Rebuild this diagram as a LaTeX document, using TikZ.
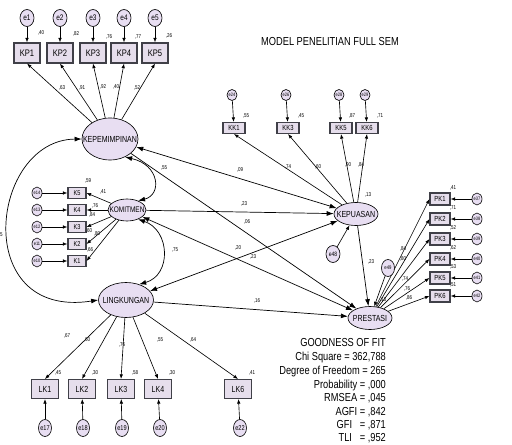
\documentclass[tikz,border=0pt]{standalone}
\usepackage{fontspec}
\setmainfont{Liberation Sans}[FakeStretch=0.8]
\usetikzlibrary{arrows.meta,shapes.geometric}
\definecolor{lav}{HTML}{E8DEF2}
\definecolor{boxf}{HTML}{E6DEEC}
\definecolor{boxd}{HTML}{404048}
\newcommand\fsz[1]{\fontsize{#1}{#1}\selectfont}
\begin{document}
\begin{tikzpicture}[x=0.05cm,y=-0.05cm,
 sz/.style 2 args={minimum width=#1*0.05cm,minimum height=#2*0.05cm},
 lat/.style={draw=black,fill=lav,ellipse,inner sep=0pt,line width=0.9pt},
 obs/.style={draw=boxd,fill=boxf,rectangle,inner sep=0pt,line width=1.5pt},
 err/.style={draw=black,fill=lav,ellipse,inner sep=0pt,line width=0.9pt},
 ltxt/.style={font=\fsz{12.5},inner sep=0pt},
 ar/.style={-{Latex[length=6.5pt,width=5pt]},line width=0.9pt},
 bar/.style={-{Latex[length=10pt,width=7pt]},line width=1pt},
 dbar/.style={{Latex[length=10pt,width=7pt]}-{Latex[length=10pt,width=7pt]},line width=1pt},
 lbl/.style={font=\fsz{8},inner sep=0pt},
 gof/.style={font=\fsz{16.5},anchor=base east,inner sep=0pt},
]
\useasboundingbox (0,0) rectangle (512,445);
\node[font=\fsz{16.5}] (title) at (330,42) {MODEL PENELITIAN FULL SEM};

% ---------- latent variables
\node[lat,sz={56}{42}] (kep) at (110,139) {};
\node[ltxt] at (kep) {KEPEMIMPINAN};
\node[lat,sz={38}{22}] (kom) at (127,210) {};
\node[ltxt,font=\fsz{11.5}] at (kom) {KOMITMEN};
\node[lat,sz={55}{35}] (lin) at (126,300) {};
\node[ltxt] at (lin) {LINGKUNGAN};
\node[lat,sz={44}{23}] (kpu) at (356,214) {};
\node[ltxt] at (kpu) {KEPUASAN};
\node[lat,sz={44}{23}] (pre) at (370,318) {};
\node[ltxt] at (pre) {PRESTASI};

% ---------- KP indicators
\foreach \i/\x/\r/\rx/\ry in {1/27/{,40}/41/33, 2/60/{,82}/76/34, 3/93/{,76}/109/37, 4/124/{,77}/138/37, 5/155/{,26}/169/36}{
  \node[obs,sz={26}{20},font=\fsz{13.5}] (kp\i) at (\x,53) {KP\i};
  \node[err,sz={14}{17}] (e\i) at (\x,18) {};
  \node[font=\fsz{11.5},inner sep=0pt] at (e\i) {e\i};
  \node[lbl] at (\rx,\ry) {\r};
  \draw[ar] (e\i) -- (kp\i);
  \draw[ar] (kep) -- (kp\i.south);
}
\node[lbl] at (62,88) {,63};
\node[lbl] at (82,88) {,91};
\node[lbl] at (103,87) {,92};
\node[lbl] at (116,87) {,40};
\node[lbl] at (137,88) {,52};

% ---------- K indicators
\foreach \i/\y/\e in {5/193/14, 4/210/13, 3/227/12, 2/244/11, 1/261/10}{
  \node[obs,sz={18}{11},font=\fsz{10}] (k\i) at (77,\y) {K\i};
  \node[err,sz={10}{12}] (ek\i) at (37,\y) {};
  \node[font=\fsz{7},inner sep=0pt] at (ek\i) {e\e};
  \draw[ar] (ek\i) -- (k\i);
  \draw[ar] (kom) -- (k\i.east);
}
\node[lbl] at (88,181) {,59};
\node[lbl] at (103,192) {,41};
\node[lbl] at (95,206) {,76};
\node[lbl] at (92,215) {,84};
\node[lbl] at (89,231) {,60};
\node[lbl] at (97,234) {,80};
\node[lbl] at (90,250) {,66};

% ---------- KK indicators
\foreach \i/\x/\e/\r/\rx in {1/234/24/{,55}/246, 3/288/26/{,45}/301, 5/341/28/{,87}/352, 6/367/29/{,71}/380}{
  \node[obs,sz={22}{11},font=\fsz{10.5}] (kk\i) at (\x,128) {KK\i};
  \node[err,sz={10}{11}] (ekk\i) at (\x-2,95) {};
  \node[font=\fsz{7},inner sep=0pt] at (ekk\i) {e\e};
  \node[lbl] at (\rx,116) {\r};
  \draw[ar] (ekk\i) -- (kk\i);
  \draw[ar] (kpu) -- (kk\i.south);
}
\node[lbl] at (288,167) {,74};
\node[lbl] at (318,167) {,60};
\node[lbl] at (348,165) {,90};
\node[lbl] at (361,165) {,84};
\node[lbl] at (368,195) {,13};

% ---------- PK indicators
\foreach \i/\y/\e/\r in {1/199/37/{,41}, 2/219/38/{,71}, 3/239/39/{,52}, 4/259/40/{,62}, 5/278/41/{,53}, 6/296/42/{,51}}{
  \node[obs,sz={20}{12},font=\fsz{10.5}] (pk\i) at (440,\y) {PK\i};
  \node[err,sz={10}{12}] (epk\i) at (477,\y) {};
  \node[font=\fsz{7},inner sep=0pt] at (epk\i) {e\e};
  \node[lbl] at (453,\y-11) {\r};
  \draw[ar] (epk\i) -- (pk\i);
  \draw[ar] (pre) -- (pk\i.west);
}
\node[lbl] at (403,249) {,84};
\node[lbl] at (403,259) {,80};
\node[lbl] at (405,279) {,74};
\node[lbl] at (407,289) {,76};
\node[lbl] at (409,298) {,86};

% ---------- LK indicators
\foreach \i/\x/\ex/\e/\r/\rx in {1/45/45/17/{,45}/58, 2/82/83/18/{,30}/95, 3/121/122/19/{,58}/135, 4/158/160/20/{,30}/172, 6/238/240/22/{,41}/252}{
  \node[obs,sz={27}{19},font=\fsz{12.5}] (lk\i) at (\x,389) {LK\i};
  \node[err,sz={13}{17}] (elk\i) at (\ex,428) {};
  \node[font=\fsz{10},inner sep=0pt] at (elk\i) {e\e};
  \node[lbl] at (\rx,373) {\r};
  \draw[ar] (elk\i) -- (lk\i);
  \draw[ar] (lin) -- (lk\i.north);
}
\node[lbl] at (67,336) {,67};
\node[lbl] at (87,340) {,60};
\node[lbl] at (122,345) {,76};
\node[lbl] at (160,340) {,55};
\node[lbl] at (193,340) {,64};

% ---------- error terms of endogenous
\node[err,sz={14}{17}] (e48) at (333,254) {};
\node[font=\fsz{9},inner sep=0pt] at (e48) {e48};
\node[err,sz={13}{17}] (e49) at (388,268) {};
\node[font=\fsz{7.5},inner sep=0pt] at (e49) {e49};
\draw[ar] (e48) -- (kpu);
\draw[ar] (e49) -- (pre);
\node[lbl] at (383,300) {,13};

% ---------- covariances
\draw[dbar] (kep.-50) .. controls (160,165) and (162,195) .. (kom.40);
\node[lbl] at (164,168) {,55};
\draw[dbar] (kom.-40) .. controls (170,230) and (172,275) .. (lin.50);
\node[lbl] at (175,250) {,75};
\draw[dbar] (kep.west) .. controls (-10,140) and (-30,320) .. (lin.west);
\node[lbl,anchor=west] at (0,235) {5};

% ---------- structural paths
\draw[dbar] (kep) -- (kpu);
\node[lbl] at (240,170) {,09};
\draw[bar] (kep) -- (pre);
\node[lbl] at (247,222) {,06};
\draw[bar] (kom) -- (kpu);
\node[lbl] at (244,204) {,23};
\draw[dbar] (kom) -- (pre);
\node[lbl] at (253,257) {,23};
\draw[dbar] (lin) -- (kpu);
\node[lbl] at (238,248) {,20};
\draw[bar] (lin) -- (pre);
\node[lbl] at (257,301) {,16};
\draw[bar] (kpu) -- (pre);
\node[lbl] at (371,262) {,23};

% ---------- goodness of fit
\node[gof] (g0) at (386,346) {GOODNESS OF FIT};
\node[gof] (g1) at (386,360) {Chi Square = 362,788};
\node[gof] (g2) at (386,374) {Degree of Freedom = 265};
\node[gof] (g3) at (386,388) {Probability = ,000};
\node[gof] (g4) at (386,401) {RMSEA = ,045};
\node[gof] (g5) at (386,415) {AGFI = ,842};
\node[gof] (g6) at (386,428) {GFI\ \ \ = ,871};
\node[gof] (g7) at (386,441) {TLI\ \ \ = ,952};
\end{tikzpicture}
\end{document}
